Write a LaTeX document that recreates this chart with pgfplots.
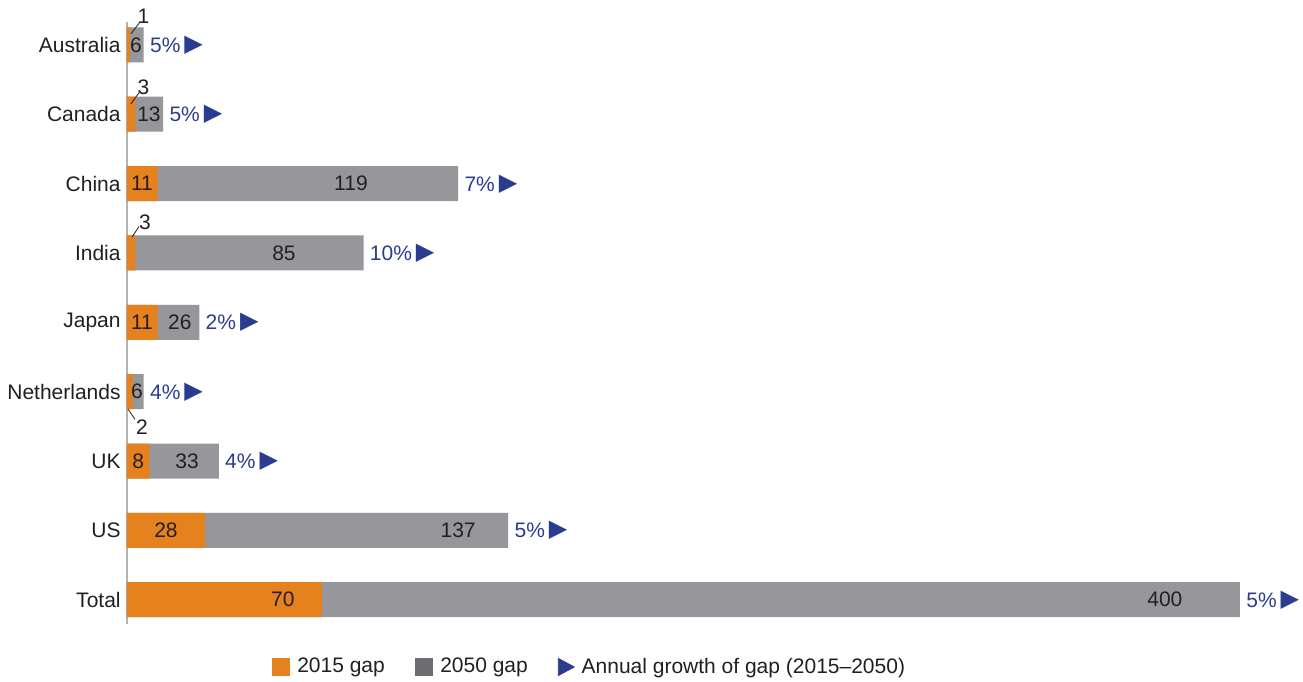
\documentclass[border=0pt]{standalone}
\usepackage{fontspec}
\setmainfont{Liberation Sans}
\newfontfamily\sym{DejaVu Sans}
\usepackage{pgfplots}
\pgfplotsset{compat=1.18}
\usepackage{pgfplotstable}

\definecolor{orangeC}{HTML}{E6821E}
\definecolor{grayC}{HTML}{97979B}
\definecolor{legGray}{HTML}{6D6E71}
\definecolor{blueC}{HTML}{2B3C90}
\definecolor{textC}{HTML}{231F20}
\definecolor{axisC}{HTML}{B3B3B3}

% idx, 2015 gap, 2050 gap
\pgfplotstableread{
idx o g
0 1 6
1 3 13
2 11 119
3 3 85
4 11 26
5 2 6
6 8 33
7 28 137
8 70 400
}\gaps

\newcommand\fs{\fontsize{10.5}{12.5}\selectfont}
\newcommand\lbl[3]{\node[inner sep=0pt, text=textC, font=\fs] at (axis cs:#1,#2) {#3};}
\newcommand\growth[3]{\node[anchor=base west, inner sep=0pt, text=blueC, xshift=3pt, yshift=-3.76pt, font=\fs] at (axis cs:#1,#2) {#3\%\hspace{2pt}\raisebox{0.5pt}{\sym\fontsize{12}{12}\selectfont ▶}};}

\begin{document}
\begin{tikzpicture}
\path[use as bounding box] (0,0) rectangle (651.5pt,340.5pt);
\begin{axis}[
  at={(63.5pt,28.5pt)}, anchor=south west,
  scale only axis, width=584.325pt, height=301pt,
  xmin=0, xmax=420, ymin=-0.33, ymax=8.35, y dir=reverse,
  axis x line=none, axis y line=left,
  y axis line style={-, draw=axisC, line width=0.9pt},
  ytick={0,...,8},
  yticklabels={Australia,Canada,China,India,Japan,Netherlands,UK,US,Total},
  major tick length=0pt,
  yticklabel style={font=\fs, text=textC, inner sep=0pt, xshift=-3pt},
  clip=false,
  legend columns=3,
  legend style={at={(0.3966,-0.0714)}, anchor=center, draw=none, fill=none,
    font=\fs, text=textC, legend cell align=left,
    /tikz/every odd column/.append style={column sep=1.5pt},
    /tikz/every even column/.append style={column sep=13pt}},
]
\addplot[xbar, bar shift=0pt, bar width=17.5pt, fill=grayC, draw=none, forget plot] table[x=g, y=idx]{\gaps};
\addplot[xbar, bar shift=0pt, bar width=17.5pt, fill=orangeC, draw=none, forget plot] table[x=o, y=idx]{\gaps};

\addlegendimage{legend image code/.code={\fill[orangeC] (0pt,-4.4pt) rectangle (8.8pt,4.4pt);}}
\addlegendentry{2015 gap}
\addlegendimage{legend image code/.code={\fill[legGray] (0pt,-4.4pt) rectangle (8.8pt,4.4pt);}}
\addlegendentry{2050 gap}
\addlegendimage{legend image code/.code={\fill[blueC] (0pt,-4.3pt) -- (0pt,4.3pt) -- (8pt,0pt) -- cycle;}}
\addlegendentry{Annual growth of gap (2015–2050)}

% values inside bars
\lbl{3.2}{0}{6}
\lbl{7.9}{1}{13}
\lbl{5.4}{2}{11}
\lbl{80.5}{2}{119}
\lbl{56.4}{3}{85}
\lbl{5.4}{4}{11}
\lbl{19}{4}{26}
\lbl{3.6}{5}{6}
\lbl{4}{6}{8}
\lbl{21.6}{6}{33}
\lbl{14}{7}{28}
\lbl{119}{7}{137}
\lbl{56}{8}{70}
\lbl{373}{8}{400}

% small 2015 values with leader lines
\draw[textC, line width=0.4pt] (axis cs:1.44,-0.16) -- (axis cs:4.67,-0.33);
\lbl{5.9}{-0.41}{1}
\draw[textC, line width=0.4pt] (axis cs:1.44,0.85) -- (axis cs:4.31,0.69);
\lbl{5.9}{0.61}{3}
\draw[textC, line width=0.4pt] (axis cs:1.8,2.77) -- (axis cs:4.31,2.62);
\lbl{6.5}{2.56}{3}
\draw[textC, line width=0.4pt] (axis cs:0.36,5.25) -- (axis cs:2.87,5.40);
\lbl{5.4}{5.51}{2}

% annual growth
\growth{6}{0}{5}
\growth{13}{1}{5}
\growth{119}{2}{7}
\growth{85}{3}{10}
\growth{26}{4}{2}
\growth{6}{5}{4}
\growth{33}{6}{4}
\growth{137}{7}{5}
\growth{400}{8}{5}
\end{axis}
\end{tikzpicture}
\end{document}
